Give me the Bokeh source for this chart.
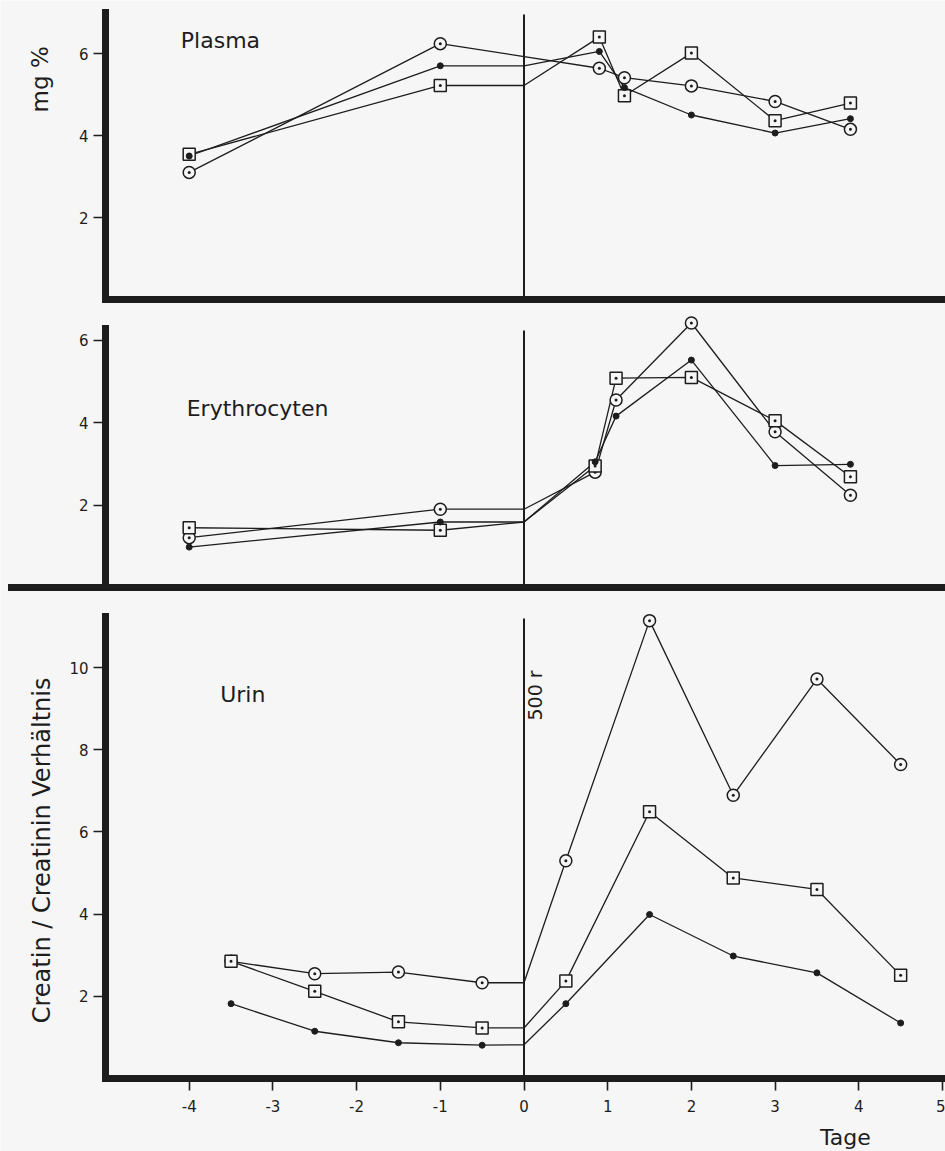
from bokeh.plotting import figure
from bokeh.models import Range1d, LinearAxis, FixedTicker
from bokeh.core.properties import value
from bokeh.embed import file_html
from bokeh.resources import INLINE

# ---------------------------------------------------------------- data
# days relative to irradiation (500 r on day 0)
irradiation_day = 0

plasma_days = [-4, -1, 0, 0.9, 1.2, 2, 3, 3.9]
plasma_ring = [3.10, 6.24, None, 5.64, 5.41, 5.21, 4.83, 4.15]
plasma_dot = [3.50, 5.70, 5.70, 6.05, 5.17, 4.50, 4.06, 4.41]
plasma_square = [3.54, 5.22, 5.22, 6.40, 4.97, 6.01, 4.36, 4.79]

ery_days = [-4, -1, 0, 0.85, 1.1, 2, 3, 3.9]
ery_ring = [1.21, 1.90, 1.90, 2.80, 4.55, 6.42, 3.78, 2.24]
ery_dot = [0.98, 1.59, 1.59, 3.05, 4.16, 5.52, 2.96, 2.99]
ery_square = [1.45, 1.39, 1.59, 2.95, 5.08, 5.10, 4.05, 2.69]

urin_days = [-3.5, -2.5, -1.5, -0.5, 0, 0.5, 1.5, 2.5, 3.5, 4.5]
urin_ring = [2.85, 2.55, 2.59, 2.33, 2.33, 5.30, 11.14, 6.89, 9.72, 7.64]
urin_square = [2.85, 2.12, 1.38, 1.23, 1.23, 2.37, 6.49, 4.88, 4.60, 2.51]
urin_dot = [1.82, 1.15, 0.87, 0.81, 0.82, 1.82, 3.99, 2.98, 2.57, 1.35]

x_ticks = [-4, -3, -2, -1, 0, 1, 2, 3, 4, 5]
x_tick_labels = ["-4", "-3", "-2", "-1", "0", "1", "2", "3", "4", "5"]
plasma_ticks = [2, 4, 6]
ery_ticks = [2, 4, 6]
urin_ticks = [2, 4, 6, 8, 10]

# ---------------------------------------------------------------- style
INK = "#1d1d1d"
BG = "#f6f6f6"
FONT = "DejaVu Sans"
W, H = 945, 1151

# horizontal mapping: day 0 at 523.5 px, 83.7 px per day
PX_PER_DAY = 83.7
X0_PX = 523.5
X_START = -X0_PX / PX_PER_DAY
X_END = (W - X0_PX) / PX_PER_DAY
Y_AXIS_DAY = -5


def stacked_range(zero_px, px_per_unit):
    """Range whose value 0 lands on zero_px (from the top) of the full-height frame."""
    return Range1d(start=(zero_px - H) / px_per_unit, end=zero_px / px_per_unit)


p = figure(width=W, height=H, output_backend="svg", toolbar_location=None,
           x_range=Range1d(X_START, X_END), y_range=stacked_range(299, 41.0),
           x_axis_location=None, y_axis_location=None, min_border=0,
           background_fill_color=BG, border_fill_color=BG, outline_line_color=None)
p.grid.visible = False
p.extra_y_ranges = {"ery": stacked_range(587, 41.2), "urin": stacked_range(1078, 41.1)}

panels = {
    # name: (y range name, axis top, y ticks, x-axis left end)
    "plasma": ("default", 7.0, plasma_ticks, Y_AXIS_DAY),
    "ery": ("ery", 6.29, ery_ticks, -6.12),
    "urin": ("urin", 11.24, urin_ticks, Y_AXIS_DAY),
}


def style_axis(ax):
    ax.axis_line_color = INK
    ax.axis_line_width = 7
    ax.axis_line_cap = "square"
    ax.major_tick_line_color = INK
    ax.major_tick_line_width = 1.6
    ax.major_tick_out = 12
    ax.major_tick_in = 0
    ax.minor_tick_line_color = None
    ax.major_label_text_font = FONT
    ax.major_label_text_font_size = "15px"
    ax.major_label_text_color = INK


for name, (rname, top, ticks, x_left) in panels.items():
    yax = LinearAxis(y_range_name=rname, fixed_location=Y_AXIS_DAY, bounds=(0, top),
                     ticker=FixedTicker(ticks=ticks), major_label_standoff=5)
    style_axis(yax)
    p.add_layout(yax, "left")

    xticks = x_ticks if name == "urin" else []
    xax = LinearAxis(y_range_name=rname, fixed_location=0, bounds=(x_left, X_END),
                     ticker=FixedTicker(ticks=xticks), major_label_standoff=9,
                     major_label_overrides={t: s for t, s in zip(x_ticks, x_tick_labels)})
    style_axis(xax)
    p.add_layout(xax, "below")

    # irradiation marker line
    p.segment(x0=[irradiation_day], y0=[0], x1=[irradiation_day], y1=[top - 0.05],
              line_color=INK, line_width=2, y_range_name=rname)


def draw_series(days, vals, rname):
    pts = [(d, v) for d, v in zip(days, vals) if v is not None]
    xs = [d for d, _ in pts]
    ys = [v for _, v in pts]
    p.line(xs, ys, line_color=INK, line_width=1.3, y_range_name=rname)
    mx = [d for d, v in pts if d != irradiation_day]
    my = [v for d, v in pts if d != irradiation_day]
    return mx, my


marker_sets = []
for rname, days, ring, dot, square in [
    ("default", plasma_days, plasma_ring, plasma_dot, plasma_square),
    ("ery", ery_days, ery_ring, ery_dot, ery_square),
    ("urin", urin_days, urin_ring, urin_dot, urin_square),
]:
    marker_sets.append((rname, "ring", draw_series(days, ring, rname)))
    marker_sets.append((rname, "square", draw_series(days, square, rname)))
    marker_sets.append((rname, "dot", draw_series(days, dot, rname)))

for rname, kind, (mx, my) in marker_sets:
    if kind == "ring":
        p.scatter(mx, my, marker="circle_dot", size=12, line_color=INK, line_width=1.5,
                  fill_color=BG, y_range_name=rname)
    elif kind == "square":
        p.scatter(mx, my, marker="square_dot", size=12, line_color=INK, line_width=1.5,
                  fill_color=BG, y_range_name=rname)
    else:
        p.scatter(mx, my, marker="circle", size=6, line_color=INK, fill_color=INK,
                  y_range_name=rname)

# ---------------------------------------------------------------- texts
def label(x, y, text, rname, size, angle=0, align="left"):
    p.text(x=[x], y=[y], text=[text], y_range_name=rname, angle=angle,
           text_font=value(FONT), text_font_size=size, text_color=INK,
           text_align=align, text_baseline="middle")


label(-4.10, 6.32, "Plasma", "default", "22px")
label(-4.03, 4.34, "Erythrocyten", "ery", "22px")
label(-3.63, 9.34, "Urin", "urin", "22px")
label(-5.78, 5.37, "mg %", "default", "23px", angle=1.5708, align="center")
label(-5.755, 5.55, "Creatin / Creatinin Verhältnis", "urin", "24px",
      angle=1.5708, align="center")
label(0.137, 9.32, "500 r", "urin", "19px", angle=1.5708, align="center")
label(3.84, -1.44, "Tage", "urin", "22px", align="center")

open("out.html", "w").write(file_html(p, INLINE))
